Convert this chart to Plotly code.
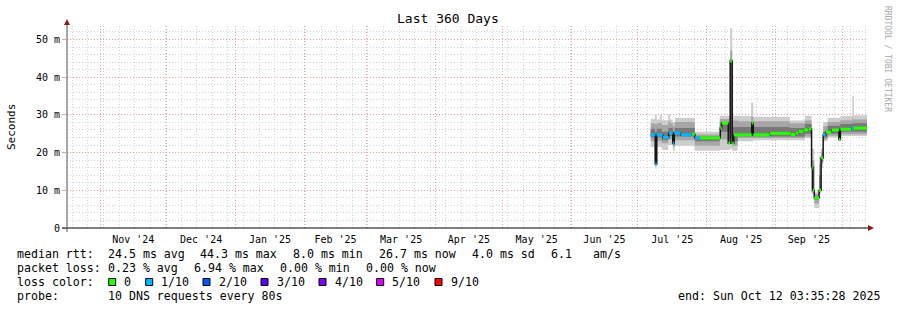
import plotly.graph_objects as go

# ---------------- data ----------------
start = "2024-10-17 03:35:28"
end = "2025-10-12 03:35:28"

# median rtt (ms), step segments starting at these times
median_t = [
    "2025-07-06 20:00", "2025-07-08 21:00", "2025-07-09 13:00", "2025-07-12 06:00",
    "2025-07-14 23:00", "2025-07-16 18:00", "2025-07-17 10:00", "2025-07-20 08:00",
    "2025-07-25 07:00", "2025-07-26 16:00", "2025-07-28 22:00", "2025-08-07 03:00",
    "2025-08-07 19:00", "2025-08-10 17:00", "2025-08-11 14:00", "2025-08-12 12:00",
    "2025-08-13 05:00", "2025-08-21 07:00", "2025-08-21 23:00", "2025-08-29 10:00",
    "2025-09-07 20:00", "2025-09-10 00:00", "2025-09-11 08:00", "2025-09-13 14:00",
    "2025-09-15 20:00", "2025-09-17 05:00", "2025-09-17 18:00", "2025-09-18 10:00",
    "2025-09-20 14:00", "2025-09-21 12:00", "2025-09-22 10:00", "2025-09-23 14:00",
    "2025-09-26 05:00", "2025-09-29 12:00", "2025-09-30 04:00", "2025-10-05 02:00",
    "2025-10-06 00:00",
]
median_ms = [
    24.7, 17.0, 24.7, 24.0,
    25.2, 22.5, 25.2, 24.7,
    24.9, 23.9, 23.9, 26.5,
    27.8, 22.5, 44.3, 22.5,
    24.7, 27.8, 24.7, 25.1,
    24.8, 25.2, 25.6, 26.0,
    26.3, 16.0, 10.0, 8.0,
    10.0, 18.6, 24.7, 25.4,
    26.0, 23.5, 26.2, 26.5,
    26.5,
]
# packet loss (out of 10) per segment
median_loss = [
    1, 1, 1, 1,
    1, 1, 1, 1,
    0, 1, 0, 0,
    0, 0, 0, 0,
    0, 0, 0, 0,
    0, 0, 0, 0,
    0, 0, 0, 0,
    0, 0, 1, 0,
    0, 0, 0, 1,
    0,
]

# smoke (ping spread, ms) step segments
smoke_t = [
    "2025-07-06 20:00", "2025-07-08 16:00", "2025-07-09 13:00", "2025-07-10 22:00",
    "2025-07-11 19:00", "2025-07-14 17:00", "2025-07-15 15:00", "2025-07-16 18:00",
    "2025-07-17 16:00", "2025-07-26 16:00", "2025-08-06 22:00", "2025-08-11 14:00",
    "2025-08-12 12:00", "2025-08-14 23:00", "2025-08-21 00:00", "2025-08-21 23:00",
    "2025-09-07 10:00", "2025-09-14 04:00", "2025-09-17 05:00", "2025-09-18 10:00",
    "2025-09-20 14:00", "2025-09-21 12:00", "2025-09-22 10:00", "2025-09-24 10:00",
    "2025-09-30 04:00", "2025-10-05 13:00", "2025-10-06 05:00",
]
smoke_hi1 = [29.0, 30.2, 28.8, 30.0, 28.6, 30.2, 28.8, 28.0, 29.2, 25.5, 29.8, 53.0, 29.7, 29.7,
             33.2, 29.5, 28.5, 29.7, 21.0, 9.5, 19.0, 21.0, 28.1, 29.2, 29.7, 35.0, 29.9]
smoke_hi2 = [27.8, 27.5, 27.8, 28.0, 27.3, 28.3, 27.8, 27.0, 28.1, 24.8, 28.9, 47.0, 28.5, 28.3,
             29.5, 28.3, 27.8, 28.5, 18.0, 9.0, 17.0, 20.0, 27.0, 28.1, 28.6, 29.0, 28.8]
smoke_hi3 = [26.3, 25.5, 26.3, 26.3, 25.5, 26.5, 26.5, 25.5, 26.5, 24.3, 28.0, 44.8, 26.8, 26.8,
             28.0, 26.8, 26.5, 27.6, 16.5, 8.5, 14.0, 19.0, 25.5, 27.1, 27.6, 27.8, 27.8]
smoke_lo3 = [24.0, 18.0, 24.0, 24.0, 23.3, 24.4, 24.4, 22.0, 24.3, 23.0, 25.5, 24.0, 23.0, 24.3,
             24.3, 24.3, 24.3, 25.0, 10.0, 7.5, 10.0, 17.5, 24.0, 25.0, 25.5, 25.5, 25.5]
smoke_lo2 = [23.0, 17.0, 23.0, 23.0, 22.5, 23.5, 23.5, 21.5, 23.3, 21.8, 23.5, 22.5, 21.8, 23.9,
             23.9, 23.9, 23.9, 24.3, 9.5, 6.5, 9.5, 17.0, 23.5, 24.5, 24.9, 24.9, 24.9]
smoke_lo1 = [21.5, 15.8, 21.5, 21.5, 20.7, 22.0, 22.0, 20.5, 21.8, 20.5, 20.7, 21.0, 20.5, 23.0,
             23.0, 23.3, 23.3, 23.9, 9.0, 5.3, 9.0, 16.0, 23.0, 24.0, 24.4, 24.4, 24.4]

loss_labels = ["0", "1/10", "2/10", "3/10", "4/10", "5/10", "9/10"]
loss_levels = [0, 1, 2, 3, 4, 5, 9]
loss_colors = ["#26ff00", "#00b8ff", "#0059ff", "#5e00ff", "#7e00ff", "#dd00ff", "#ff0000"]

y_tickvals = [0, 10, 20, 30, 40, 50]
y_ticktext = ["0", "10 m", "20 m", "30 m", "40 m", "50 m"]

stats_rtt = ["median rtt:", "24.5 ms avg", "44.3 ms max", "8.0 ms min", "26.7 ms now",
             "4.0 ms sd", "6.1", "am/s"]
stats_loss = ["packet loss:", "0.23 % avg", "6.94 % max", "0.00 % min", "0.00 % now"]

# ---------------- layout helpers ----------------
L, R, T, B = 67, 867, 26, 228
W, H = 897, 310


def PX(x):
    return (x - L) / (R - L)


def PY(y):
    return (B - y) / (B - T)


MONO = "DejaVu Sans Mono"
LEG = 11.6

fig = go.Figure()

sx = smoke_t + [end]


def ext(a):
    return a + [a[-1]]


bands = [
    (smoke_lo1, smoke_hi1, "#cdcdcd"),
    (smoke_lo2, smoke_hi2, "#a6a6a6"),
    (smoke_lo3, smoke_hi3, "#787878"),
]
for lo, hi, col in bands:
    fig.add_trace(go.Scatter(x=sx, y=ext(lo), mode="lines", line=dict(width=0, shape="hv"),
                             showlegend=False, hoverinfo="skip"))
    fig.add_trace(go.Scatter(x=sx, y=ext(hi), mode="lines", line=dict(width=0, shape="hv"),
                             fill="tonexty", fillcolor=col, showlegend=False, hoverinfo="skip"))

mx = median_t + [end]
fig.add_trace(go.Scatter(x=mx, y=ext(median_ms), mode="lines",
                         line=dict(width=1.5, shape="hv", color="#141414"),
                         showlegend=False, hoverinfo="skip"))

for lvl, col in zip(loss_levels, loss_colors):
    xs, ys = [], []
    for i, l in enumerate(median_loss):
        if l == lvl:
            xs += [mx[i], mx[i + 1], None]
            ys += [median_ms[i], median_ms[i], None]
    if xs:
        fig.add_trace(go.Scatter(x=xs, y=ys, mode="lines", line=dict(width=3, color=col),
                                 showlegend=False, hoverinfo="skip"))

grid_dash = "1px,2px"
fig.update_layout(
    width=W, height=H, autosize=False,
    margin=dict(l=L, r=W - R, t=T, b=H - B, pad=0),
    paper_bgcolor="white", plot_bgcolor="white",
    showlegend=False,
    font=dict(family=MONO, size=10, color="black"),
    xaxis=dict(
        type="date", range=[start, end], fixedrange=True,
        tick0="2024-11-01", dtick="M1", tickformat="%b '%y", ticklabelmode="period",
        showgrid=True, gridcolor="#f2a0a0", griddash=grid_dash, gridwidth=1,
        ticks="outside", ticklen=2, tickcolor="white", showline=False, zeroline=False,
        tickfont=dict(family=MONO, size=10, color="black"),
        minor=dict(dtick=7 * 86400000, tick0="2024-10-19 14:00", showgrid=True,
                   gridcolor="#d4d4d4", griddash=grid_dash, gridwidth=1),
    ),
    yaxis=dict(
        range=[0, (B - T) / 3.77], fixedrange=True,
        tickmode="array", tickvals=y_tickvals, ticktext=y_ticktext,
        showgrid=True, gridcolor="#f2a0a0", griddash=grid_dash, gridwidth=1,
        ticks="outside", ticklen=4, tickcolor="#f2a0a0",
        showline=False, zeroline=False,
        tickfont=dict(family=MONO, size=10, color="black"),
        minor=dict(dtick=2, showgrid=True, gridcolor="#d4d4d4", griddash=grid_dash, gridwidth=1),
    ),
)

shapes = []
# axis lines
shapes.append(dict(type="line", xref="paper", yref="paper", x0=PX(62), x1=PX(869), y0=PY(228), y1=PY(228),
                   line=dict(color="black", width=1)))
shapes.append(dict(type="line", xref="paper", yref="paper", x0=PX(67), x1=PX(67), y0=PY(232), y1=PY(23),
                   line=dict(color="#505050", width=1)))
# arrows
shapes.append(dict(type="path", xref="paper", yref="paper",
                   path=f"M {PX(64)} {PY(25)} L {PX(70)} {PY(25)} L {PX(67)} {PY(19)} Z",
                   fillcolor="#8b1a1a", line=dict(width=0)))
shapes.append(dict(type="path", xref="paper", yref="paper",
                   path=f"M {PX(868)} {PY(225)} L {PX(868)} {PY(231)} L {PX(874)} {PY(228)} Z",
                   fillcolor="#8b1a1a", line=dict(width=0)))

annotations = []


def txt(x, y, s, size=LEG, anchor="left", color="black", angle=0):
    annotations.append(dict(x=PX(x), y=PY(y), xref="paper", yref="paper", text=s, showarrow=False,
                            xanchor=anchor, yanchor="middle", textangle=angle,
                            font=dict(family=MONO, size=size, color=color), borderpad=0))


# title
txt(448, 19, "Last 360 Days", size=13, anchor="center")
# y title
txt(11, 127, "Seconds", size=11, anchor="center", angle=-90)
# watermark
txt(888, 59, "RRDTOOL / TOBI OETIKER", size=8, anchor="center", color="#a8a8a8", angle=90)

# stats lines
rtt_x = [16, 107, 199, 292, 378, 471, 550, 592]
for x, s in zip(rtt_x, stats_rtt):
    txt(x, 254, s)
loss_x = [16, 107, 193, 279, 365]
for x, s in zip(loss_x, stats_loss):
    txt(x, 268, s)
txt(16, 282, "loss color:")
box_x = [108.7, 145.7, 203, 261, 319, 376.7, 435]
for sx0, lab, col in zip(box_x, loss_labels, loss_colors):
    shapes.append(dict(type="rect", xref="paper", yref="paper", x0=PX(sx0), x1=PX(sx0 + 7),
                       y0=PY(285.5), y1=PY(278.5), fillcolor=col, line=dict(color="black", width=1)))
    txt(sx0 + 14.5, 282, lab)
txt(16, 296, "probe:")
txt(107, 296, "10 DNS requests every 80s")
txt(881, 296, "end: Sun Oct 12 03:35:28 2025", anchor="right")

fig.update_layout(shapes=shapes, annotations=annotations)
fig.write_html("out.html")
